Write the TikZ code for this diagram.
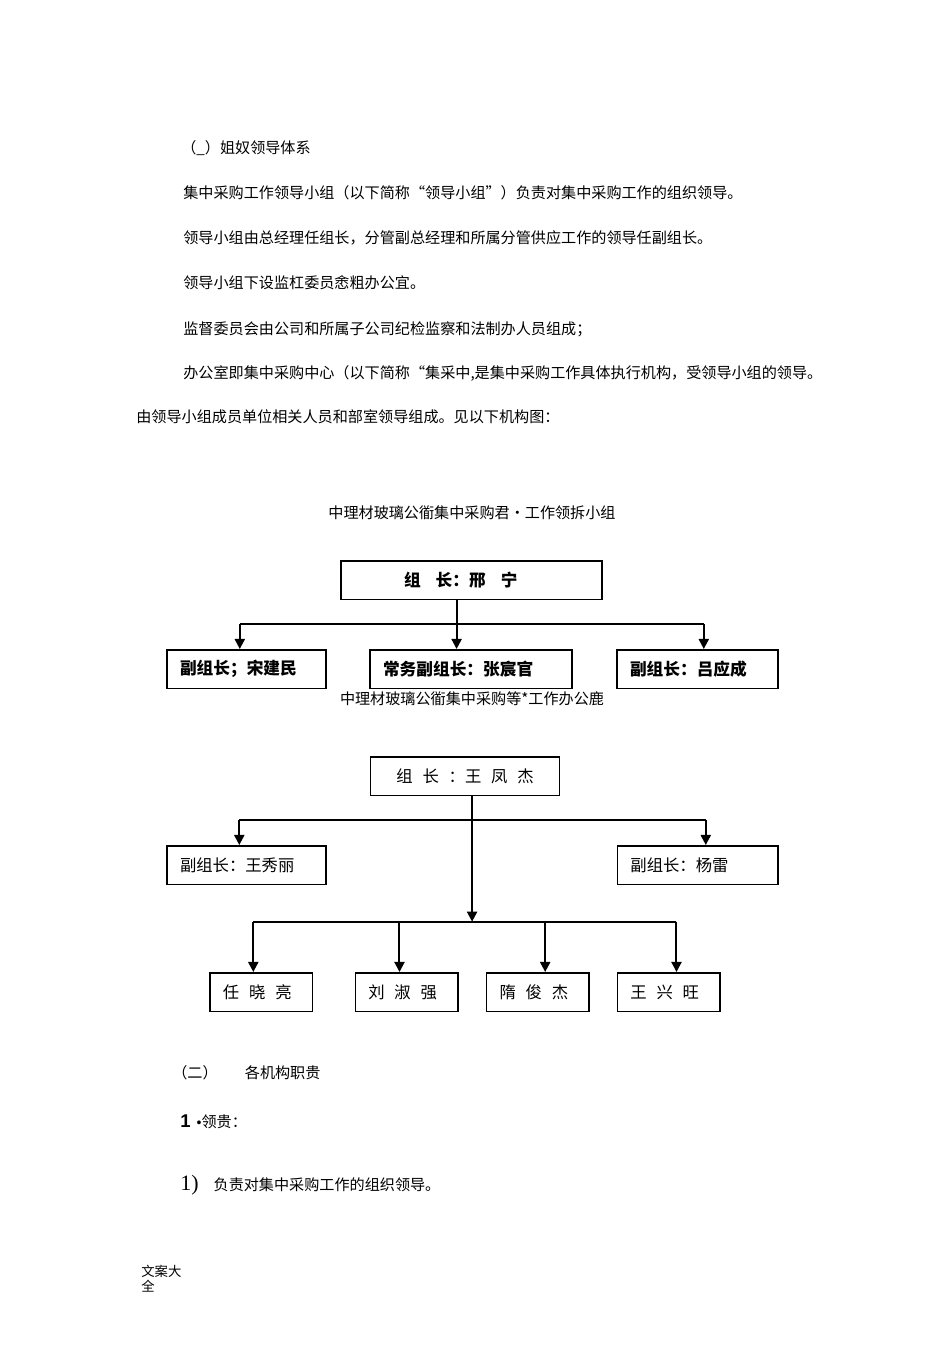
\documentclass[tikz,border=0pt]{standalone}
\usepackage{fontspec}
\setmainfont{Liberation Serif}
\newfontfamily\cjk{Noto Sans CJK SC}
\newfontfamily\lsans{Liberation Sans}
\usetikzlibrary{arrows.meta}
\newcommand{\kg}{\hspace{0.6em}}

\begin{document}
\begin{tikzpicture}[scale=0.2]
        \tikzstyle{every node}+=[inner sep=0pt]
        \tikzstyle{para}=[anchor=west, font=\cjk\fontsize{8.6pt}{10pt}\selectfont]
        \tikzstyle{charttitle}=[font=\cjk\fontsize{8.6pt}{10pt}\selectfont]
        \tikzstyle{box}=[draw, line width=0.3mm, inner xsep=2.6mm, minimum height=7.7mm, align=left]
        \tikzstyle{boldbox}=[box, font=\cjk\bfseries\fontsize{9.5pt}{11pt}\selectfont]
        \tikzstyle{thinbox}=[box, font=\cjk\fontsize{9.3pt}{11pt}\selectfont]
        \tikzstyle{link}=[line width=0.4mm]
        \tikzstyle{arr}=[link, -{Triangle[length=2mm,width=2mm]}]
        \useasboundingbox (0,0) rectangle (95,-136);
        % opening text
        \node [para] (h1) at (18.1,-14.8) {（\_）姐奴领导体系};
        \node [para] (l1) at (18.3,-19.3) {集中采购工作领导小组（以下简称“领导小组”）负责对集中采购工作的组织领导。};
        \node [para] (l2) at (18.3,-23.8) {领导小组由总经理任组长，分管副总经理和所属分管供应工作的领导任副组长。};
        \node [para] (l3) at (18.3,-28.3) {领导小组下设监杠委员悆粗办公宜。};
        \node [para] (l4) at (18.3,-32.9) {监督委员会由公司和所属子公司纪检监察和法制办人员组成；};
        \node [para] (l5) at (18.3,-37.3) {办公室即集中采购中心（以下简称“集采中,是集中采购工作具体执行机构，受领导小组的领导。};
        \node [para] (l6) at (13.6,-41.7) {由领导小组成员单位相关人员和部室领导组成。见以下机构图：};
        % leading group chart
        \node [charttitle] (t1) at (47.2,-51.3) {中理材玻璃公衜集中采购君•工作领拆小组};
        \node [boldbox, inner xsep=12.6mm, text width=27mm] (top1) at (47.15,-58.0) {组\hspace{0.9em}长：邢\hspace{0.9em}宁};
        \node [boldbox, text width=26.6mm] (lb1) at (24.65,-66.9) {副组长；宋建民};
        \node [boldbox, text width=35.2mm] (mb1) at (47.1,-66.9) {常务副组长：张宸官};
        \node [boldbox, text width=27mm] (rb1) at (69.75,-66.9) {副组长：吕应成};
        \coordinate (j1) at (45.66,-62.43);
        \coordinate (p1) at (23.98,-62.43);
        \coordinate (p2) at (70.38,-62.43);
        \draw [link] (top1.south -| j1) -- (j1);
        \draw [link] (p1) -- (p2);
        \draw [arr] (j1) -- (mb1.north -| j1);
        \draw [arr] (p1) -- (lb1.north -| p1);
        \draw [arr] (p2) -- (rb1.north -| p2);
        % office chart
        \node [charttitle] (t2) at (47.2,-69.85) {中理材玻璃公衜集中采购等*工作办公鹿};
        \node [thinbox, minimum width=37.8mm, align=center] (top2) at (46.5,-77.6) {组\kg 长\kg ：王\kg 凤\kg 杰};
        \node [thinbox, text width=26.6mm] (lb2) at (24.65,-86.5) {副组长：王秀丽};
        \node [thinbox, text width=26.9mm] (rb2) at (69.77,-86.5) {副组长：杨雷};
        \node [thinbox, text width=15.3mm] (b1) at (26.12,-99.2) {任\kg 晓\kg 亮};
        \node [thinbox, text width=15.3mm] (b2) at (40.65,-99.2) {刘\kg 淑\kg 强};
        \node [thinbox, text width=15.3mm] (b3) at (53.78,-99.2) {隋\kg 俊\kg 杰};
        \node [thinbox, text width=15.3mm] (b4) at (66.86,-99.2) {王\kg 兴\kg 旺};
        \coordinate (j2) at (47.21,-82.0);
        \coordinate (p3) at (23.93,-82.0);
        \coordinate (p4) at (70.58,-82.0);
        \coordinate (j3) at (47.21,-92.17);
        \coordinate (p5) at (25.33,-92.17);
        \coordinate (p6) at (39.95,-92.17);
        \coordinate (p7) at (54.52,-92.17);
        \coordinate (p8) at (67.65,-92.17);
        \draw [arr] (top2.south -| j2) -- (j3);
        \draw [link] (p3) -- (p4);
        \draw [arr] (p3) -- (lb2.north -| p3);
        \draw [arr] (p4) -- (rb2.north -| p4);
        \draw [link] (p5) -- (p8);
        \foreach \p/\b in {p5/b1, p6/b2, p7/b3, p8/b4}
                \draw [arr] (\p) -- (\b.north -| \p);
        % duties
        \node [para] (s2) at (17.2,-107.3) {（二）\hspace{1.8em}各机构职贵};
        \node [anchor=west] (s3) at (18.0,-112.2) {{\lsans\bfseries\fontsize{10.5pt}{12pt}\selectfont 1}\hspace{1.2mm}{\lsans\fontsize{8pt}{9pt}\selectfont •}{\cjk\fontsize{8.6pt}{10pt}\selectfont 领贵：}};
        \node [anchor=west] (s4) at (18.0,-118.5) {{\fontsize{12.5pt}{14pt}\selectfont 1)}\hspace{3mm}{\cjk\fontsize{8.6pt}{10pt}\selectfont 负责对集中采购工作的组织领导。}};
        \node [anchor=north west, align=left, font=\cjk\fontsize{7.6pt}{8.6pt}\selectfont] (ft) at (14.1,-126.5) {文案大\\全};
\end{tikzpicture}
\end{document}
